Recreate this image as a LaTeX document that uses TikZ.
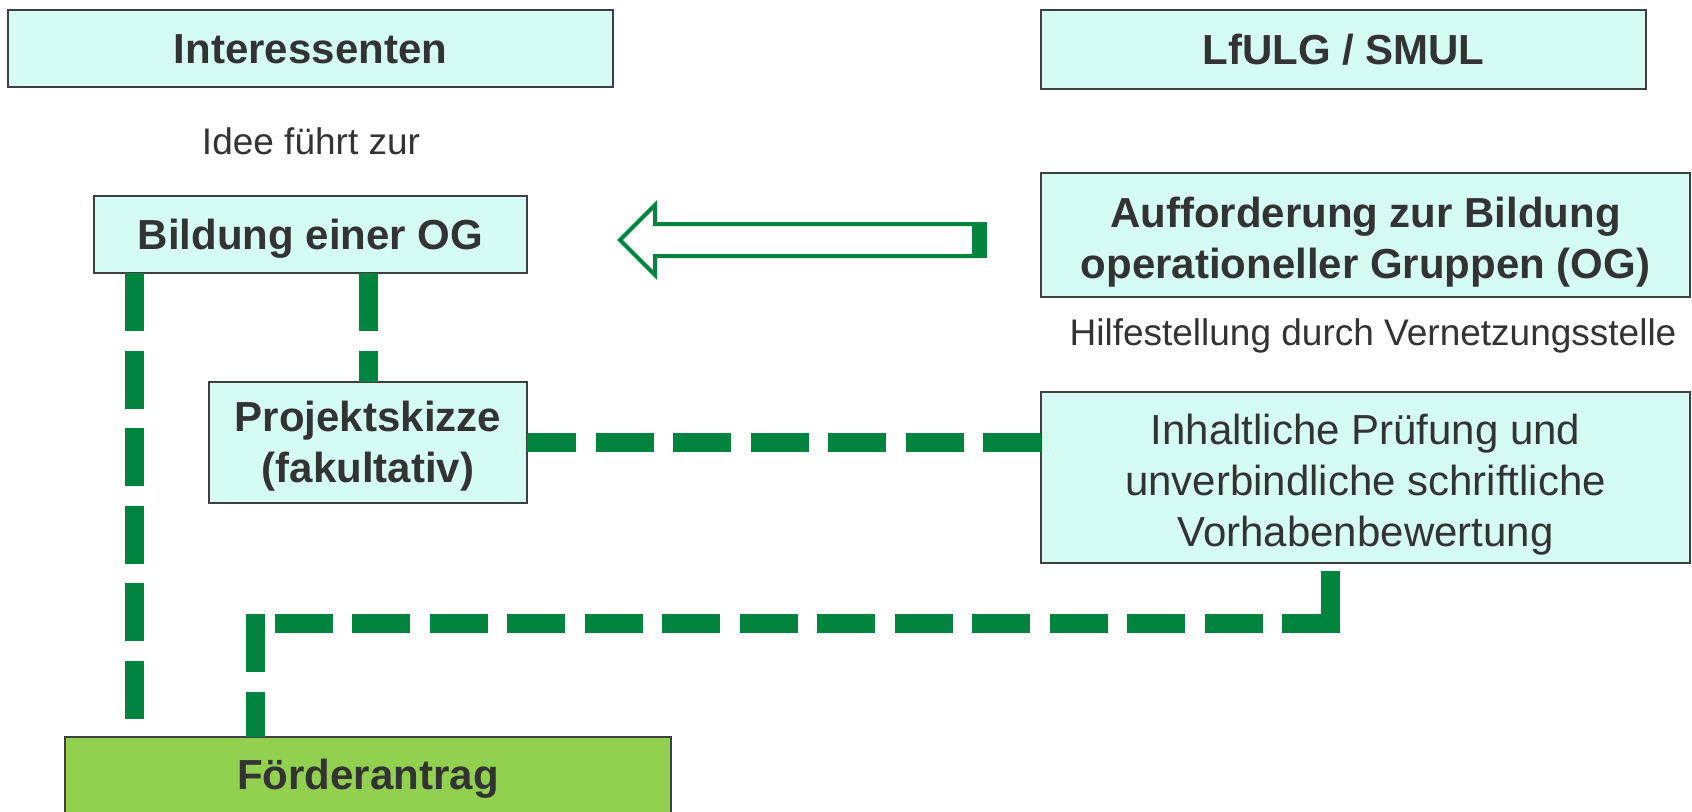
\documentclass[tikz,border=0pt]{standalone}
\usepackage{fontspec}
\setmainfont{Liberation Sans}
\usetikzlibrary{calc}
\definecolor{boxfill}{RGB}{213,252,243}
\definecolor{foerfill}{RGB}{146,208,80}
\definecolor{ogreen}{RGB}{0,132,62}
\definecolor{txt}{RGB}{51,51,51}
\definecolor{bord}{RGB}{64,64,64}
\newcommand\myst{\rule[-0.212em]{0pt}{1.117em}}
\newcommand\mystlow{\rule[-0.212em]{0pt}{\dimexpr1.117em+3pt\relax}}
\begin{document}
\begin{tikzpicture}[x=0.5pt,y=-0.5pt,
  box/.style={draw=bord, line width=1.2pt, fill=boxfill, text=txt, inner sep=0pt, outer sep=0pt,
    align=center, font=\fontsize{21pt}{25.5pt}\selectfont},
  bbox/.style={box, font=\fontsize{21pt}{25.5pt}\selectfont\bfseries},
  freetext/.style={text=txt, inner sep=0pt, font=\fontsize{18.5pt}{22pt}\selectfont},
  conn/.style={draw=ogreen, line width=9.5pt, dash pattern=on 29pt off 9.75pt},
  solidconn/.style={draw=ogreen, line width=9.5pt},
  blockarrow/.style={draw=ogreen, line width=2pt, line join=miter, fill=white}
  ]
\fill[white] (0,0) rectangle (1692,811);
\useasboundingbox (0,0) rectangle (1692,811);

% boxes
\node[bbox, minimum width=302.5pt, minimum height=38.5pt] (inter) at (310.5,48.5) {\myst Interessenten};
\node[bbox, minimum width=302.5pt, minimum height=39.5pt] (lfulg) at (1343.5,49.5) {\myst LfULG / SMUL};
\node[freetext] (idee) at (311,141) {Idee führt zur};
\node[bbox, minimum width=216.5pt, minimum height=38.5pt] (bild) at (310.5,234.5) {\myst Bildung einer OG};
\node[bbox, minimum width=324.5pt, minimum height=62pt] (auff) at (1365.5,235)
  {\mystlow Aufforderung zur Bildung\\\myst operationeller Gruppen (OG)};
\node[freetext] (hilfe) at (1373,336) {Hilfestellung durch Vernetzungsstelle};
\node[bbox, minimum width=159pt, minimum height=60.5pt] (proj) at (368,442.5)
  {\myst Projektskizze\\\myst (fakultativ)};
\node[box, minimum width=324.5pt, minimum height=85.5pt] (inh) at (1365.5,477.5)
  {\mystlow Inhaltliche Prüfung und\\\myst unverbindliche schriftliche\\\myst Vorhabenbewertung};
\node[bbox, fill=foerfill, minimum width=303pt, minimum height=38pt] (foer) at (368,775) {\myst Förderantrag};

% block arrow
\draw[blockarrow] (620,240) -- (655,205) -- (655,224) -- (980,224) -- (980,256)
  -- (655,256) -- (655,275) -- cycle;
\fill[ogreen] (972,222) rectangle (987,258);

% connectors
\coordinate (xl) at (134,0);
\coordinate (xm) at (368.5,0);
\coordinate (c1) at (1330.5,623.5);
\coordinate (c2) at (255.5,623.5);

\draw[conn] (bild.south -| xl) -- (foer.north -| xl);
\draw[conn] (bild.south -| xm) -- (proj.north -| xm);
\draw[conn] (proj.east -| inh.west) -- (proj.east);
\draw[solidconn] ($(inh.south -| c1)+(0,8)$) -- ($(c1)+(0,9.5)$);
\draw[conn] ($(c1)+(9.5,0)$) -- (c2);
\draw[conn] ($(c2)+(0,-9.5)$) -- (foer.north -| c2);
\end{tikzpicture}
\end{document}
